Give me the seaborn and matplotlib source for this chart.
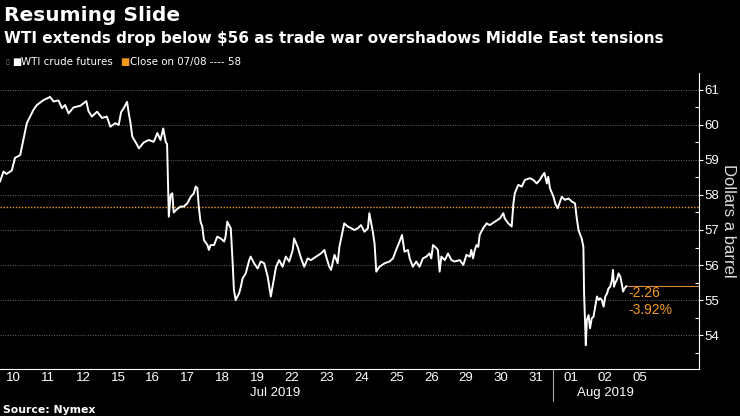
import pandas as pd
import seaborn as sns
import matplotlib.pyplot as plt
from matplotlib.ticker import FixedLocator, MultipleLocator

# trading days shown on the x axis (one slot per session)
day_labels = ["10", "11", "12", "15", "16", "17", "18", "19", "22", "23",
              "24", "25", "26", "29", "30", "31", "01", "02", "05"]
months = ["Jul 2019", "Aug 2019"]
month_days = [16, 3]
y_ticks = [54, 55, 56, 57, 58, 59, 60, 61]

# session time (trading days since Jul 10 open) and WTI price
t = [0.11, 0.21, 0.30, 0.45, 0.54, 0.69, 0.78, 0.88, 0.97, 1.07,
     1.17, 1.36, 1.55, 1.65, 1.79, 1.89, 1.98, 2.08, 2.22, 2.42,
     2.59, 2.65, 2.75, 2.90, 3.04, 3.18, 3.28, 3.42, 3.52, 3.59,
     3.66, 3.76, 3.81, 3.86, 3.91, 4.05, 4.10, 4.24, 4.38, 4.53,
     4.63, 4.72, 4.80, 4.87, 4.91, 4.94, 4.96, 5.01, 5.06, 5.10,
     5.20, 5.30, 5.39, 5.49, 5.59, 5.68, 5.73, 5.78, 5.82, 5.87,
     5.92, 5.97, 6.07, 6.11, 6.16, 6.26, 6.35, 6.45, 6.55, 6.59,
     6.64, 6.69, 6.74, 6.79, 6.83, 6.88, 6.98, 7.03, 7.08, 7.17,
     7.27, 7.31, 7.41, 7.51, 7.60, 7.70, 7.80, 7.89, 7.94, 8.04,
     8.13, 8.23, 8.32, 8.42, 8.52, 8.56, 8.66, 8.76, 8.85, 8.95,
     9.04, 9.19, 9.33, 9.43, 9.48, 9.57, 9.62, 9.72, 9.81, 9.86,
     9.96, 10.00, 10.10, 10.20, 10.29, 10.39, 10.48, 10.58, 10.68, 10.72,
     10.82, 10.87, 10.92, 11.01, 11.16, 11.30, 11.40, 11.49, 11.59, 11.66,
     11.73, 11.83, 11.88, 11.97, 12.07, 12.16, 12.26, 12.36, 12.45, 12.50,
     12.55, 12.65, 12.69, 12.74, 12.79, 12.89, 12.98, 13.08, 13.17, 13.32,
     13.42, 13.51, 13.61, 13.65, 13.70, 13.75, 13.80, 13.85, 13.89, 13.99,
     14.09, 14.18, 14.33, 14.47, 14.57, 14.61, 14.71, 14.81, 14.86, 14.90,
     15.00, 15.10, 15.19, 15.33, 15.43, 15.53, 15.62, 15.67, 15.75, 15.82,
     15.86, 15.91, 16.01, 16.06, 16.13, 16.25, 16.34, 16.44, 16.54, 16.63,
     16.68, 16.73, 16.78, 16.82, 16.87, 16.89, 16.94, 16.97, 17.02, 17.06,
     17.11, 17.16, 17.21, 17.26, 17.31, 17.35, 17.40, 17.45, 17.50, 17.55,
     17.59, 17.64, 17.69, 17.72, 17.75, 17.78, 17.83, 17.88, 17.93, 17.98,
     18.01, 18.05, 18.11]
price = [58.38, 58.67, 58.60, 58.70, 59.06, 59.14, 59.57, 60.05, 60.23, 60.43,
         60.57, 60.71, 60.80, 60.67, 60.70, 60.48, 60.57, 60.33, 60.50, 60.55,
         60.68, 60.40, 60.24, 60.38, 60.20, 60.24, 59.95, 60.05, 60.00, 60.37,
         60.47, 60.66, 60.33, 60.05, 59.67, 59.43, 59.33, 59.50, 59.57, 59.52,
         59.77, 59.57, 59.90, 59.52, 59.45, 58.20, 57.38, 58.00, 58.05, 57.50,
         57.60, 57.67, 57.67, 57.76, 57.95, 58.05, 58.24, 58.20, 57.67, 57.24,
         57.10, 56.71, 56.57, 56.43, 56.57, 56.57, 56.81, 56.76, 56.67, 56.81,
         57.24, 57.14, 57.05, 56.14, 55.29, 55.00, 55.19, 55.38, 55.62, 55.76,
         56.14, 56.24, 56.05, 55.90, 56.10, 56.05, 55.67, 55.10, 55.38, 55.95,
         56.14, 55.95, 56.24, 56.10, 56.43, 56.76, 56.52, 56.19, 55.95, 56.19,
         56.14, 56.24, 56.33, 56.43, 56.24, 55.95, 55.86, 56.29, 56.05, 56.52,
         57.00, 57.19, 57.10, 57.05, 57.00, 57.05, 57.14, 56.95, 57.05, 57.48,
         56.95, 56.62, 55.81, 55.95, 56.05, 56.10, 56.19, 56.43, 56.67, 56.86,
         56.38, 56.43, 56.19, 55.95, 56.10, 55.95, 56.19, 56.24, 56.33, 56.19,
         56.57, 56.48, 56.43, 55.81, 56.24, 56.14, 56.33, 56.14, 56.10, 56.14,
         56.00, 56.29, 56.24, 56.43, 56.19, 56.43, 56.57, 56.52, 56.86, 57.05,
         57.19, 57.14, 57.24, 57.33, 57.48, 57.33, 57.19, 57.10, 57.76, 58.05,
         58.29, 58.24, 58.43, 58.48, 58.43, 58.33, 58.43, 58.52, 58.63, 58.33,
         58.52, 58.19, 57.95, 57.76, 57.62, 57.95, 57.86, 57.90, 57.81, 57.76,
         57.33, 57.00, 56.86, 56.76, 56.52, 55.19, 53.71, 54.43, 54.57, 54.19,
         54.48, 54.52, 54.81, 55.10, 55.00, 55.05, 55.00, 54.81, 55.10, 55.19,
         55.33, 55.38, 55.57, 55.86, 55.38, 55.48, 55.57, 55.76, 55.67, 55.43,
         55.24, 55.33, 55.40]

close_0708 = 57.66
change = -2.26
change_pct = -3.92

df = pd.DataFrame({"t": t, "price": price})

sns.set_theme(style="dark", rc={
    "figure.facecolor": "black", "axes.facecolor": "black",
    "axes.edgecolor": "white", "text.color": "white",
    "xtick.color": "white", "ytick.color": "white",
})
plt.rcParams["font.family"] = ["Liberation Sans", "DejaVu Sans"]

orange = "#f39a1f"
grey = "#6b6b6b"

fig = plt.figure(figsize=(7.4, 4.16), dpi=100)
ax = fig.add_axes([0.0, 0.113, 0.945, 0.712])

ax.axhline(close_0708, color=orange, lw=1.0, ls=(0, (1, 1.2)), zorder=2)
sns.lineplot(data=df, x="t", y="price", ax=ax, color="white", lw=1.4,
             estimator=None, zorder=3)

x_end = 20.2
ax.set_xlim(0.11, x_end)
ax.set_ylim(53.03, 61.49)

# last price line and change labels
ax.hlines(price[-1], t[-1], x_end, color="#d98a3a", lw=0.8, zorder=2)
ax.annotate(f"{change:.2f}", (t[-1], price[-1]), xytext=(1, -5),
            textcoords="offset points", ha="left", va="center",
            color=orange, fontsize=10)
ax.annotate(f"{change_pct:.2f}%", (t[-1], price[-1]), xytext=(1, -17),
            textcoords="offset points", ha="left", va="center",
            color=orange, fontsize=10)

# y axis on the right
ax.yaxis.tick_right()
ax.yaxis.set_major_locator(FixedLocator(y_ticks))
ax.yaxis.set_minor_locator(MultipleLocator(0.5))
ax.tick_params(axis="y", which="major", direction="out", length=3, width=0.8,
               labelsize=9.5, pad=1, right=True)
ax.tick_params(axis="y", which="minor", direction="in", length=3, width=0.8, right=True)
ax.grid(axis="y", which="major", color=grey, ls=(0, (1, 1.5)), lw=0.7)
ax.set_ylabel("")
fig.text(0.984, 0.469, "Dollars a barrel", rotation=270, ha="center", va="center",
         fontsize=12, color="#dddddd")

# x axis: one slot per trading day
ax.set_xticks([i + 0.5 for i in range(len(day_labels))])
ax.set_xticklabels(day_labels)
ax.tick_params(axis="x", length=0, labelsize=9.5, pad=2.5)
ax.set_xlabel("")
start = 0
for m, n in zip(months, month_days):
    ax.text(start + n / 2, -0.081, m, transform=ax.get_xaxis_transform(),
            ha="center", va="center", fontsize=9.5, color="white")
    start += n
ax.plot([16, 16], [0, -0.107], transform=ax.get_xaxis_transform(),
        color="#aaaaaa", lw=0.8, clip_on=False)

for side in ["top", "left"]:
    ax.spines[side].set_visible(False)
ax.spines["right"].set_color("white")
ax.spines["bottom"].set_color("white")
ax.spines["right"].set_linewidth(0.8)
ax.spines["bottom"].set_linewidth(0.8)

# titles and legend
bold = ["DejaVu Sans"]
fig.text(0.006, 0.985, "Resuming Slide", ha="left", va="top", fontsize=14.5,
         fontweight="bold", family=bold)
fig.text(0.006, 0.925, "WTI extends drop below $56 as trade war overshadows Middle East tensions",
         ha="left", va="top", fontsize=11, fontweight="bold", family=bold)
fig.text(0.007, 0.851, "\u25af", color="#888888", fontsize=5, va="center", family=bold)
fig.text(0.016, 0.851, "\u25a0", color="white", fontsize=7, va="center", family=bold)
fig.text(0.028, 0.851, "WTI crude futures", color="white", fontsize=7.4, va="center", family=bold)
fig.text(0.163, 0.851, "\u25a0", color=orange, fontsize=7, va="center", family=bold)
fig.text(0.176, 0.851, "Close on 07/08 ---- 58", color="white", fontsize=7.4, va="center", family=bold)
fig.text(0.004, 0.015, "Source: Nymex", ha="left", va="center", fontsize=7.8,
         fontweight="bold", family=bold)

fig.savefig("out.png", dpi=100, facecolor="black")
